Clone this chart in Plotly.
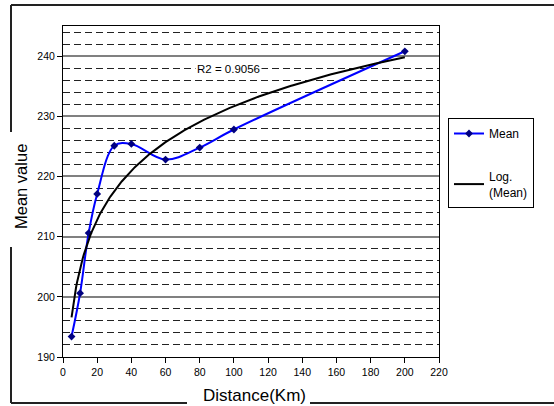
import numpy as np
import plotly.graph_objects as go

# ---- data ----
distance_km = [5, 10, 15, 20, 30, 40, 60, 80, 100, 200]
mean_value = [193.4, 200.6, 210.6, 217.1, 225.1, 225.4, 222.8, 224.8, 227.8, 240.8]
r2_label = "R2 = 0.9056"
x_ticks = list(range(0, 221, 20))
y_ticks = list(range(190, 241, 10))

# logarithmic trend line fitted to the data (Excel-style "Log. (Mean)")
a, b = np.polyfit(np.log(distance_km), mean_value, 1)
trend_x = np.linspace(min(distance_km), max(distance_km), 300)
trend_y = a * np.log(trend_x) + b

W, H = 554, 406
L, R, T, B = 63, 439, 26, 357  # plot area in pixels


def px(xpix):
    return (xpix - L) / (R - L)


def py(ypix):
    return (B - ypix) / (B - T)


FONT = "Arial, 'Liberation Sans', sans-serif"

fig = go.Figure()
fig.add_trace(go.Scatter(
    x=distance_km, y=mean_value, name="Mean", mode="lines+markers",
    line=dict(color="#0000FF", width=2, shape="spline", smoothing=1),
    marker=dict(symbol="diamond", size=6, color="#000080"),
    legendgroup="a",
))
fig.add_trace(go.Scatter(
    x=trend_x, y=trend_y, name="Log.<br>(Mean)", mode="lines",
    line=dict(color="black", width=2),
    legendgroup="b",
))

fig.update_layout(
    width=W, height=H,
    margin=dict(l=L, r=W - R, t=T, b=H - B),
    paper_bgcolor="white", plot_bgcolor="white",
    font=dict(family=FONT, color="black", size=11),
    showlegend=True,
    legend=dict(
        x=px(448), y=py(118), xanchor="left", yanchor="top",
        bordercolor="black", borderwidth=1, bgcolor="white",
        font=dict(family=FONT, size=12, color="black"),
        traceorder="grouped", tracegroupgap=24,
    ),
)
fig.update_xaxes(
    range=[0, 220], tickvals=x_ticks, showgrid=False, zeroline=False,
    showline=True, linecolor="black", linewidth=1, mirror=True,
    ticks="outside", ticklen=5, tickcolor="black",
    tickfont=dict(size=10.5, family=FONT, color="black"),
)
fig.update_yaxes(
    range=[190, 245], tickvals=y_ticks, zeroline=False,
    showline=True, linecolor="black", linewidth=1, mirror=True,
    ticks="outside", ticklen=5, tickcolor="black",
    tickfont=dict(size=10.5, family=FONT, color="black"),
    showgrid=True, gridcolor="#808080", gridwidth=1.5,
    minor=dict(dtick=2, tick0=190, showgrid=True, gridcolor="#222222",
               griddash="7px,4px", gridwidth=1, ticks=""),
)

fig.add_annotation(
    x=96.7, y=237.9, xref="x", yref="y", text=r2_label, showarrow=False,
    bgcolor="white", font=dict(size=11.5, family=FONT, color="black"),
)
fig.add_annotation(
    x=px(21), y=py(187), xref="paper", yref="paper", text="Mean value",
    xanchor="center", yanchor="middle",
    textangle=-90, showarrow=False, font=dict(size=16.5, family=FONT, color="black"),
)
fig.add_annotation(
    x=px(254), y=py(395), xref="paper", yref="paper", text="Distance(Km)",
    xanchor="center", yanchor="middle",
    showarrow=False, font=dict(size=17, family=FONT, color="black"),
)

# outer chart-area frame (interrupted by the axis titles)
frame = dict(color="#222222", width=2)
for x0, y0, x1, y1 in [
    (11, 5, 554, 5),
    (11, 5, 11, 132),
    (11, 247, 11, 403),
    (11, 403, 187, 403),
    (310, 403, 554, 403),
]:
    fig.add_shape(type="line", xref="paper", yref="paper",
                  x0=px(x0), y0=py(y0), x1=px(x1), y1=py(y1), line=frame)

fig.write_html("out.html")
